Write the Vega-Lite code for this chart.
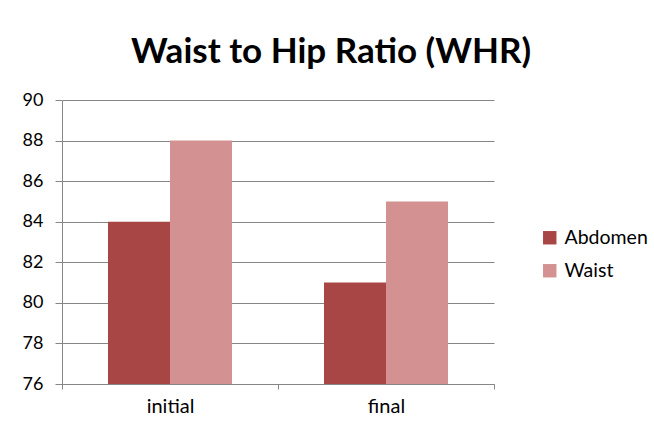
{
  "$schema": "https://vega.github.io/schema/vega-lite/v6.json",
  "width": 432,
  "height": 284,
  "autosize": "none",
  "padding": {"left": 62, "top": 100, "right": 160, "bottom": 41},
  "background": "white",
  "title": {
    "text": "Waist to Hip Ratio (WHR)",
    "font": "Lato",
    "fontSize": 35,
    "fontWeight": "bold",
    "color": "black",
    "anchor": "middle",
    "dx": 53,
    "offset": 21
  },
  "data": {
    "values": [
      {"stage": "initial", "measure": "Abdomen", "value": 84},
      {"stage": "initial", "measure": "Waist", "value": 88},
      {"stage": "final", "measure": "Abdomen", "value": 81},
      {"stage": "final", "measure": "Waist", "value": 85}
    ]
  },
  "mark": {"type": "bar", "clip": true},
  "encoding": {
    "x": {
      "field": "stage",
      "type": "nominal",
      "sort": ["initial", "final"],
      "scale": {"paddingInner": 0, "paddingOuter": 0},
      "axis": {
        "title": null,
        "labelAngle": 0,
        "tickBand": "extent",
        "labelFont": "Lato",
        "labelFontSize": 20,
        "labelColor": "black",
        "labelPadding": 7,
        "domainColor": "#868686",
        "tickColor": "#868686",
        "tickSize": 5,
        "grid": false
      }
    },
    "xOffset": {
      "field": "measure",
      "type": "nominal",
      "sort": ["Abdomen", "Waist"],
      "scale": {"paddingInner": 0, "paddingOuter": 0.742}
    },
    "y": {
      "field": "value",
      "type": "quantitative",
      "scale": {"domain": [76, 90], "zero": false, "nice": false},
      "axis": {
        "title": null,
        "values": [76, 78, 80, 82, 84, 86, 88, 90],
        "labelFont": "Lato",
        "labelFontSize": 18,
        "labelColor": "black",
        "labelPadding": 12,
        "domainColor": "#868686",
        "tickColor": "#868686",
        "tickSize": 7,
        "gridColor": "#868686",
        "gridWidth": 1
      }
    },
    "color": {
      "field": "measure",
      "type": "nominal",
      "sort": ["Abdomen", "Waist"],
      "scale": {"domain": ["Abdomen", "Waist"], "range": ["#A84646", "#D39191"]},
      "legend": {
        "title": null,
        "orient": "none",
        "legendX": 478,
        "legendY": 128,
        "symbolType": "square",
        "symbolSize": 180,
        "symbolStrokeWidth": 0,
        "labelFont": "Lato",
        "labelFontSize": 19.5,
        "labelColor": "black",
        "labelOffset": 5,
        "rowPadding": 12
      }
    }
  },
  "config": {"view": {"stroke": null}}
}
